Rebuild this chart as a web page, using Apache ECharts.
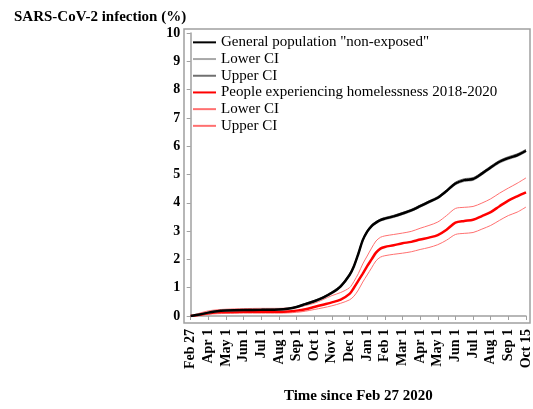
<!DOCTYPE html>
<html>
<head>
<meta charset="utf-8">
<script src="https://cdn.jsdelivr.net/npm/echarts@6/dist/echarts.min.js"></script>
<style>html,body{margin:0;padding:0;background:#fff}#c{width:533px;height:409px}</style>
</head>
<body>
<div id="c"></div>
<script>
// x positions in tick units (0 = Feb 27 2020, 19 = Oct 15 2021)
var tickLabels = ['Feb 27','Apr 1','May 1','Jun 1','Jul 1','Aug 1','Sep 1','Oct 1','Nov 1','Dec 1','Jan 1','Feb 1','Mar 1','Apr 1','May 1','Jun 1','Jul 1','Aug 1','Sep 1','Oct 15'];
var xPos = [0,0.5,1,1.5,2,3,4,5,5.5,6,6.5,7,7.5,8,8.5,9,9.25,9.5,9.75,10,10.25,10.5,10.75,11,11.5,12,12.5,13,13.5,14,14.5,15,15.5,16,16.5,17,17.5,18,18.5,19];
var generalPop = [0,0.05,0.12,0.17,0.19,0.21,0.22,0.23,0.26,0.32,0.42,0.52,0.65,0.82,1.05,1.45,1.76,2.2,2.68,2.98,3.18,3.3,3.39,3.44,3.52,3.62,3.73,3.88,4.03,4.18,4.42,4.68,4.8,4.84,5.03,5.25,5.45,5.58,5.68,5.84];
var generalLower = [0,0.04,0.1,0.15,0.17,0.19,0.2,0.21,0.24,0.3,0.39,0.49,0.62,0.78,1.01,1.41,1.72,2.16,2.64,2.94,3.14,3.26,3.35,3.4,3.48,3.58,3.69,3.84,3.99,4.14,4.38,4.63,4.75,4.79,4.98,5.2,5.4,5.53,5.63,5.79];
var generalUpper = [0,0.06,0.14,0.19,0.21,0.23,0.24,0.25,0.28,0.34,0.45,0.55,0.68,0.86,1.09,1.49,1.8,2.24,2.72,3.02,3.22,3.34,3.43,3.48,3.56,3.66,3.77,3.92,4.07,4.22,4.46,4.73,4.85,4.89,5.08,5.3,5.5,5.63,5.73,5.89];
var homeless = [0,0.04,0.1,0.13,0.14,0.15,0.15,0.15,0.16,0.19,0.24,0.32,0.4,0.48,0.58,0.78,1.0,1.25,1.5,1.76,2.0,2.24,2.38,2.44,2.5,2.57,2.62,2.7,2.77,2.86,3.05,3.3,3.36,3.4,3.53,3.67,3.88,4.08,4.23,4.37];
var homelessLower = [0,0.02,0.06,0.08,0.09,0.1,0.1,0.1,0.11,0.13,0.17,0.23,0.29,0.36,0.45,0.57,0.7,0.92,1.2,1.45,1.7,1.95,2.08,2.13,2.18,2.22,2.27,2.35,2.42,2.52,2.68,2.88,2.92,2.95,3.07,3.2,3.38,3.55,3.67,3.85];
var homelessUpper = [0,0.1,0.18,0.22,0.24,0.26,0.27,0.27,0.28,0.3,0.37,0.45,0.58,0.72,0.83,1.0,1.22,1.5,1.84,2.12,2.4,2.65,2.78,2.83,2.88,2.93,2.99,3.1,3.2,3.32,3.55,3.8,3.84,3.87,3.99,4.14,4.34,4.52,4.69,4.88];
var yTicks = [0,1,2,3,4,5,6,7,8,9,10];

function pairs(ys){ return xPos.map(function(x,i){ return [x, ys[i]]; }); }

var serif = 'Liberation Serif';
var chart = echarts.init(document.getElementById('c'), null, {renderer:'canvas'});
function line(name, ys, color, width, z){
  return {name:name, type:'line', data:pairs(ys), symbol:'none', showSymbol:false, smooth:0.3,
    lineStyle:{color:color, width:width}, itemStyle:{color:color}, z:z, animation:false};
}
chart.setOption({
  animation:false,
  title:{text:'SARS-CoV-2 infection (%)', left:9, top:5,
    textStyle:{fontFamily:serif, fontWeight:'bold', fontSize:15, color:'#000'}},
  legend:{orient:'vertical', left:192, top:34, padding:0, itemWidth:23, itemHeight:12, itemGap:0,
    itemStyle:{opacity:0},
    textStyle:{fontFamily:serif, fontSize:15, color:'#000', lineHeight:16.7, padding:[0,0,0,0]},
    data:['General population "non-exposed"','Lower CI ','Upper CI ','People experiencing homelessness 2018-2020','Lower CI','Upper CI']},
  grid:{left:190.7, right:4, top:33, bottom:91, containLabel:false},
  xAxis:{type:'value', min:0, max:19, interval:1, offset:5,
    name:'Time since Feb 27 2020', nameLocation:'middle', nameGap:68,
    nameTextStyle:{fontFamily:serif, fontWeight:'bold', fontSize:15, color:'#000'},
    axisLine:{lineStyle:{color:'#a0a0a0', width:1.5}},
    axisTick:{length:4, lineStyle:{color:'#a0a0a0'}},
    splitLine:{show:false},
    axisLabel:{rotate:90, margin:8, fontFamily:serif, fontWeight:'bold', fontSize:14, color:'#000',
      formatter:function(v){ return tickLabels[Math.round(v)]; }}},
  yAxis:{type:'value', min:yTicks[0], max:yTicks[yTicks.length-1], interval:1, offset:6.5,
    axisLine:{show:true, lineStyle:{color:'#a0a0a0', width:1.5}},
    axisTick:{show:true, length:4, lineStyle:{color:'#a0a0a0'}},
    splitLine:{show:false},
    axisLabel:{margin:4, fontFamily:serif, fontWeight:'bold', fontSize:14, color:'#000'}},
  graphic:[{type:'rect', shape:{x:184, y:29, width:346, height:294}, silent:true,
    style:{fill:'none', stroke:'#a0a0a0', lineWidth:1.5}, z:-1}],
  series:[
    line('General population "non-exposed"', generalPop, '#000000', 2.5, 6),
    line('Lower CI ', generalLower, '#a8a8a8', 1, 5),
    line('Upper CI ', generalUpper, '#707070', 1, 5),
    line('People experiencing homelessness 2018-2020', homeless, '#ff0000', 2.5, 4),
    line('Lower CI', homelessLower, '#ff7070', 1, 3),
    line('Upper CI', homelessUpper, '#ff7070', 1, 3)
  ]
});
</script>
</body>
</html>
